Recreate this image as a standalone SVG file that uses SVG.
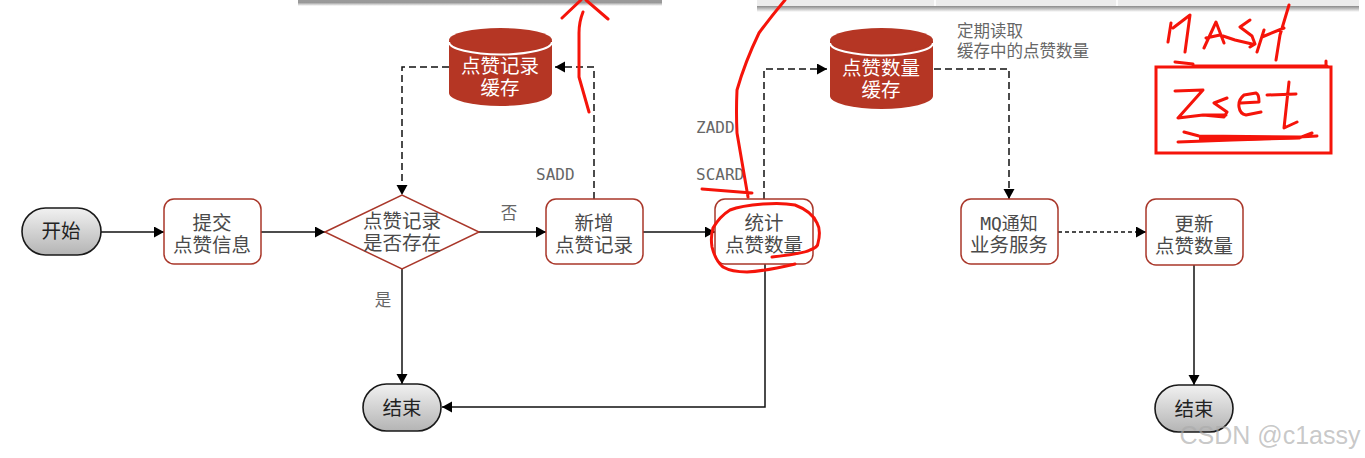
<svg xmlns="http://www.w3.org/2000/svg" width="1365" height="458" viewBox="0 0 1365 458">
<style>
text{font-family:"Noto Sans CJK SC","Noto Sans",sans-serif;text-anchor:middle}
.n{font-size:19.500px;fill:#4a4a4a}
.w{font-size:19.500px;fill:#fff}
.b{font-size:19.500px;fill:#222}
.l{font-size:16.500px;fill:#666}
.m{font-family:"DejaVu Sans Mono","Liberation Mono",monospace;font-size:16px;fill:#666;text-anchor:start}
.box{fill:#fff;stroke:#a9372a;stroke-width:1.5}
.pill{fill:url(#g);stroke:#1a1a1a;stroke-width:1.6}
.c{fill:none;stroke:#111;stroke-width:1.5}
.d{stroke-dasharray:7 4}
.s{stroke-dasharray:4 3}
.r{fill:none;stroke:#f5140a;stroke-width:3;stroke-linecap:round;stroke-linejoin:round}
</style>
<defs>
<linearGradient id="g" x1="0" y1="0" x2="0" y2="1"><stop offset="0" stop-color="#f1f1f1"/><stop offset="1" stop-color="#b4b4b4"/></linearGradient>
<linearGradient id="sh" x1="0" y1="0" x2="0" y2="1"><stop offset="0" stop-color="#8a8a8a"/><stop offset="1" stop-color="#fff"/></linearGradient>
<marker id="a" markerUnits="userSpaceOnUse" markerWidth="11" markerHeight="12" refX="10" refY="5.500" orient="auto"><path d="M0 0L10 5.500L0 11Z" fill="#000"/></marker>
</defs>
<rect width="1365" height="458" fill="#fff"/>
<g id="top-panels">
<rect x="298" y="0" width="364" height="2" fill="#9a9a9a"/>
<rect x="298" y="2" width="364" height="4" fill="url(#sh)"/>
<rect x="757" y="0" width="602" height="6" fill="#ececec"/>
<rect x="757" y="6" width="602" height="6" fill="url(#sh)"/>
<path d="M935 0V6M1117 0V6" stroke="#fff" stroke-width="1.500"/>
</g>
<g id="connectors">
<path class="c" marker-end="url(#a)" d="M101 232H164"/>
<path class="c" marker-end="url(#a)" d="M261 232H325"/>
<path class="c" marker-end="url(#a)" d="M479 232H546"/>
<path class="c" marker-end="url(#a)" d="M643 232H715"/>
<path class="c d" marker-end="url(#a)" d="M449 67H402V195"/>
<path class="c d" marker-end="url(#a)" d="M594 199V67H555"/>
<path class="c d" marker-end="url(#a)" d="M764 199V69H827"/>
<path class="c d" marker-end="url(#a)" d="M934 69H1009V199"/>
<path class="c s" marker-end="url(#a)" d="M1058 232H1146"/>
<path class="c" marker-end="url(#a)" d="M402 269V384"/>
<path class="c" marker-end="url(#a)" d="M765 264V407H442"/>
<path class="c" marker-end="url(#a)" d="M1194 265V385"/>
</g>
<g id="start"><rect class="pill" x="22" y="208" width="79" height="47" rx="23.500"/><text class="b" x="61" y="238">开始</text></g>
<g id="submit"><rect class="box" x="164" y="199" width="97" height="65" rx="10"/><text class="n" x="212" y="230">提交</text><text class="n" x="212" y="252">点赞信息</text></g>
<g id="exists"><path d="M325 232L402 195L479 232L402 269Z" fill="#fff" stroke="#a9372a" stroke-width="1.500"/><text class="n" x="402" y="228">点赞记录</text><text class="n" x="402" y="250">是否存在</text></g>
<g id="add"><rect class="box" x="546" y="199" width="97" height="65" rx="10"/><text class="n" x="594" y="230">新增</text><text class="n" x="594" y="252">点赞记录</text></g>
<g id="count"><rect class="box" x="715" y="199" width="98" height="65" rx="10"/><text class="n" x="764" y="230">统计</text><text class="n" x="764" y="252">点赞数量</text></g>
<g id="mq"><rect class="box" x="961" y="199" width="97" height="65" rx="10"/><text class="n" x="1009" y="230" style="font-family:'DejaVu Sans Mono','Noto Sans CJK SC',monospace;font-size:18px">MQ通知</text><text class="n" x="1009" y="252">业务服务</text></g>
<g id="update"><rect class="box" x="1146" y="199" width="97" height="66" rx="10"/><text class="n" x="1194" y="231">更新</text><text class="n" x="1194" y="253">点赞数量</text></g>
<g id="cache1"><path d="M449 41V93A51.500 13 0 0 0 552 93V41Z" fill="#b53624"/><ellipse cx="500.500" cy="40" rx="51.500" ry="12" fill="#b53624"/><path d="M449 42A51.500 12.500 0 0 0 552 42" fill="none" stroke="#fff" stroke-width="2"/><text class="w" x="500" y="73">点赞记录</text><text class="w" x="500" y="95">缓存</text></g>
<g id="cache2"><path d="M830 41V96A51.500 13 0 0 0 933 96V41Z" fill="#b53624"/><ellipse cx="881.500" cy="40" rx="51.500" ry="12" fill="#b53624"/><path d="M830 43A51.500 12.500 0 0 0 933 43" fill="none" stroke="#fff" stroke-width="2"/><text class="w" x="881" y="75">点赞数量</text><text class="w" x="881" y="97">缓存</text></g>
<g id="end1"><rect class="pill" x="363" y="384" width="78" height="47" rx="23.500"/><text class="b" x="402" y="415">结束</text></g>
<g id="end2"><rect class="pill" x="1155" y="385" width="78" height="47" rx="23.500"/><text class="b" x="1194" y="416">结束</text></g>
<g id="labels">
<text class="l" x="509" y="219">否</text>
<text class="l" x="383" y="306">是</text>
<text class="m" x="536" y="180">SADD</text>
<text class="m" x="696" y="133">ZADD</text>
<text class="m" x="696" y="180">SCARD</text>
<text class="l" x="957" y="37" style="text-anchor:start">定期读取</text>
<text class="l" x="957" y="57" style="text-anchor:start">缓存中的点赞数量</text>
</g>
<g id="annotations">
<path class="r" d="M583 12Q579 22 579 33L579 77L589 112M562 18L581 0M586 0L608 19"/>
<path class="r" d="M785 0Q770 18 759 33Q745 62 737 90Q736 112 737 133L748 197M702 189L752 193"/>
<path class="r" d="M772 257C790 255 805 253 810 250C816 248 818 246 818 243C820 235 820 228 817 223C813 214 803 208 795 205C785 203 775 203 763 204C750 205 740 206 730 210C722 215 717 221 713 228C711 235 711 241 712 247C714 255 717 262 723 267C730 271 738 272 747 272C765 271 782 267 795 264"/>
<path class="r" d="M1171 23L1168 42M1173 28L1190 15L1185 52M1204 48L1216 22L1224 43M1206 38L1220 35L1235 40L1252 44M1250 20L1240 27L1252 36L1255 44L1250 47M1264 30L1257 52M1262 37L1284 28M1289 5L1280 35L1276 60"/>
<rect x="1156" y="67" width="175" height="86" fill="none" stroke="#f5140a" stroke-width="3"/>
<path class="r" d="M1175 62L1193 64M1193 66H1327M1326 61V66"/>
<path class="r" d="M1175 91L1203 90L1178 118L1203 115L1226 115M1227 98L1214 103L1227 112L1224 117L1203 115M1241 103L1259 102Q1259 94 1256 93L1244 95Q1238 100 1239 107Q1240 114 1246 115L1261 112M1267 95L1296 94M1289 82L1284 128L1297 122"/>
<path class="r" d="M1184 132L1199 136L1299 137L1317 136M1178 142L1232 140L1299 138L1312 133"/>
<path d="M1199 136L1299 136V139L1232 141L1199 140Z" fill="#f5140a"/>
</g>
<text x="1270" y="444" style="font-family:'Liberation Sans',sans-serif;font-size:25px;fill:#aaa;fill-opacity:.65">CSDN @c1assy</text>
</svg>
